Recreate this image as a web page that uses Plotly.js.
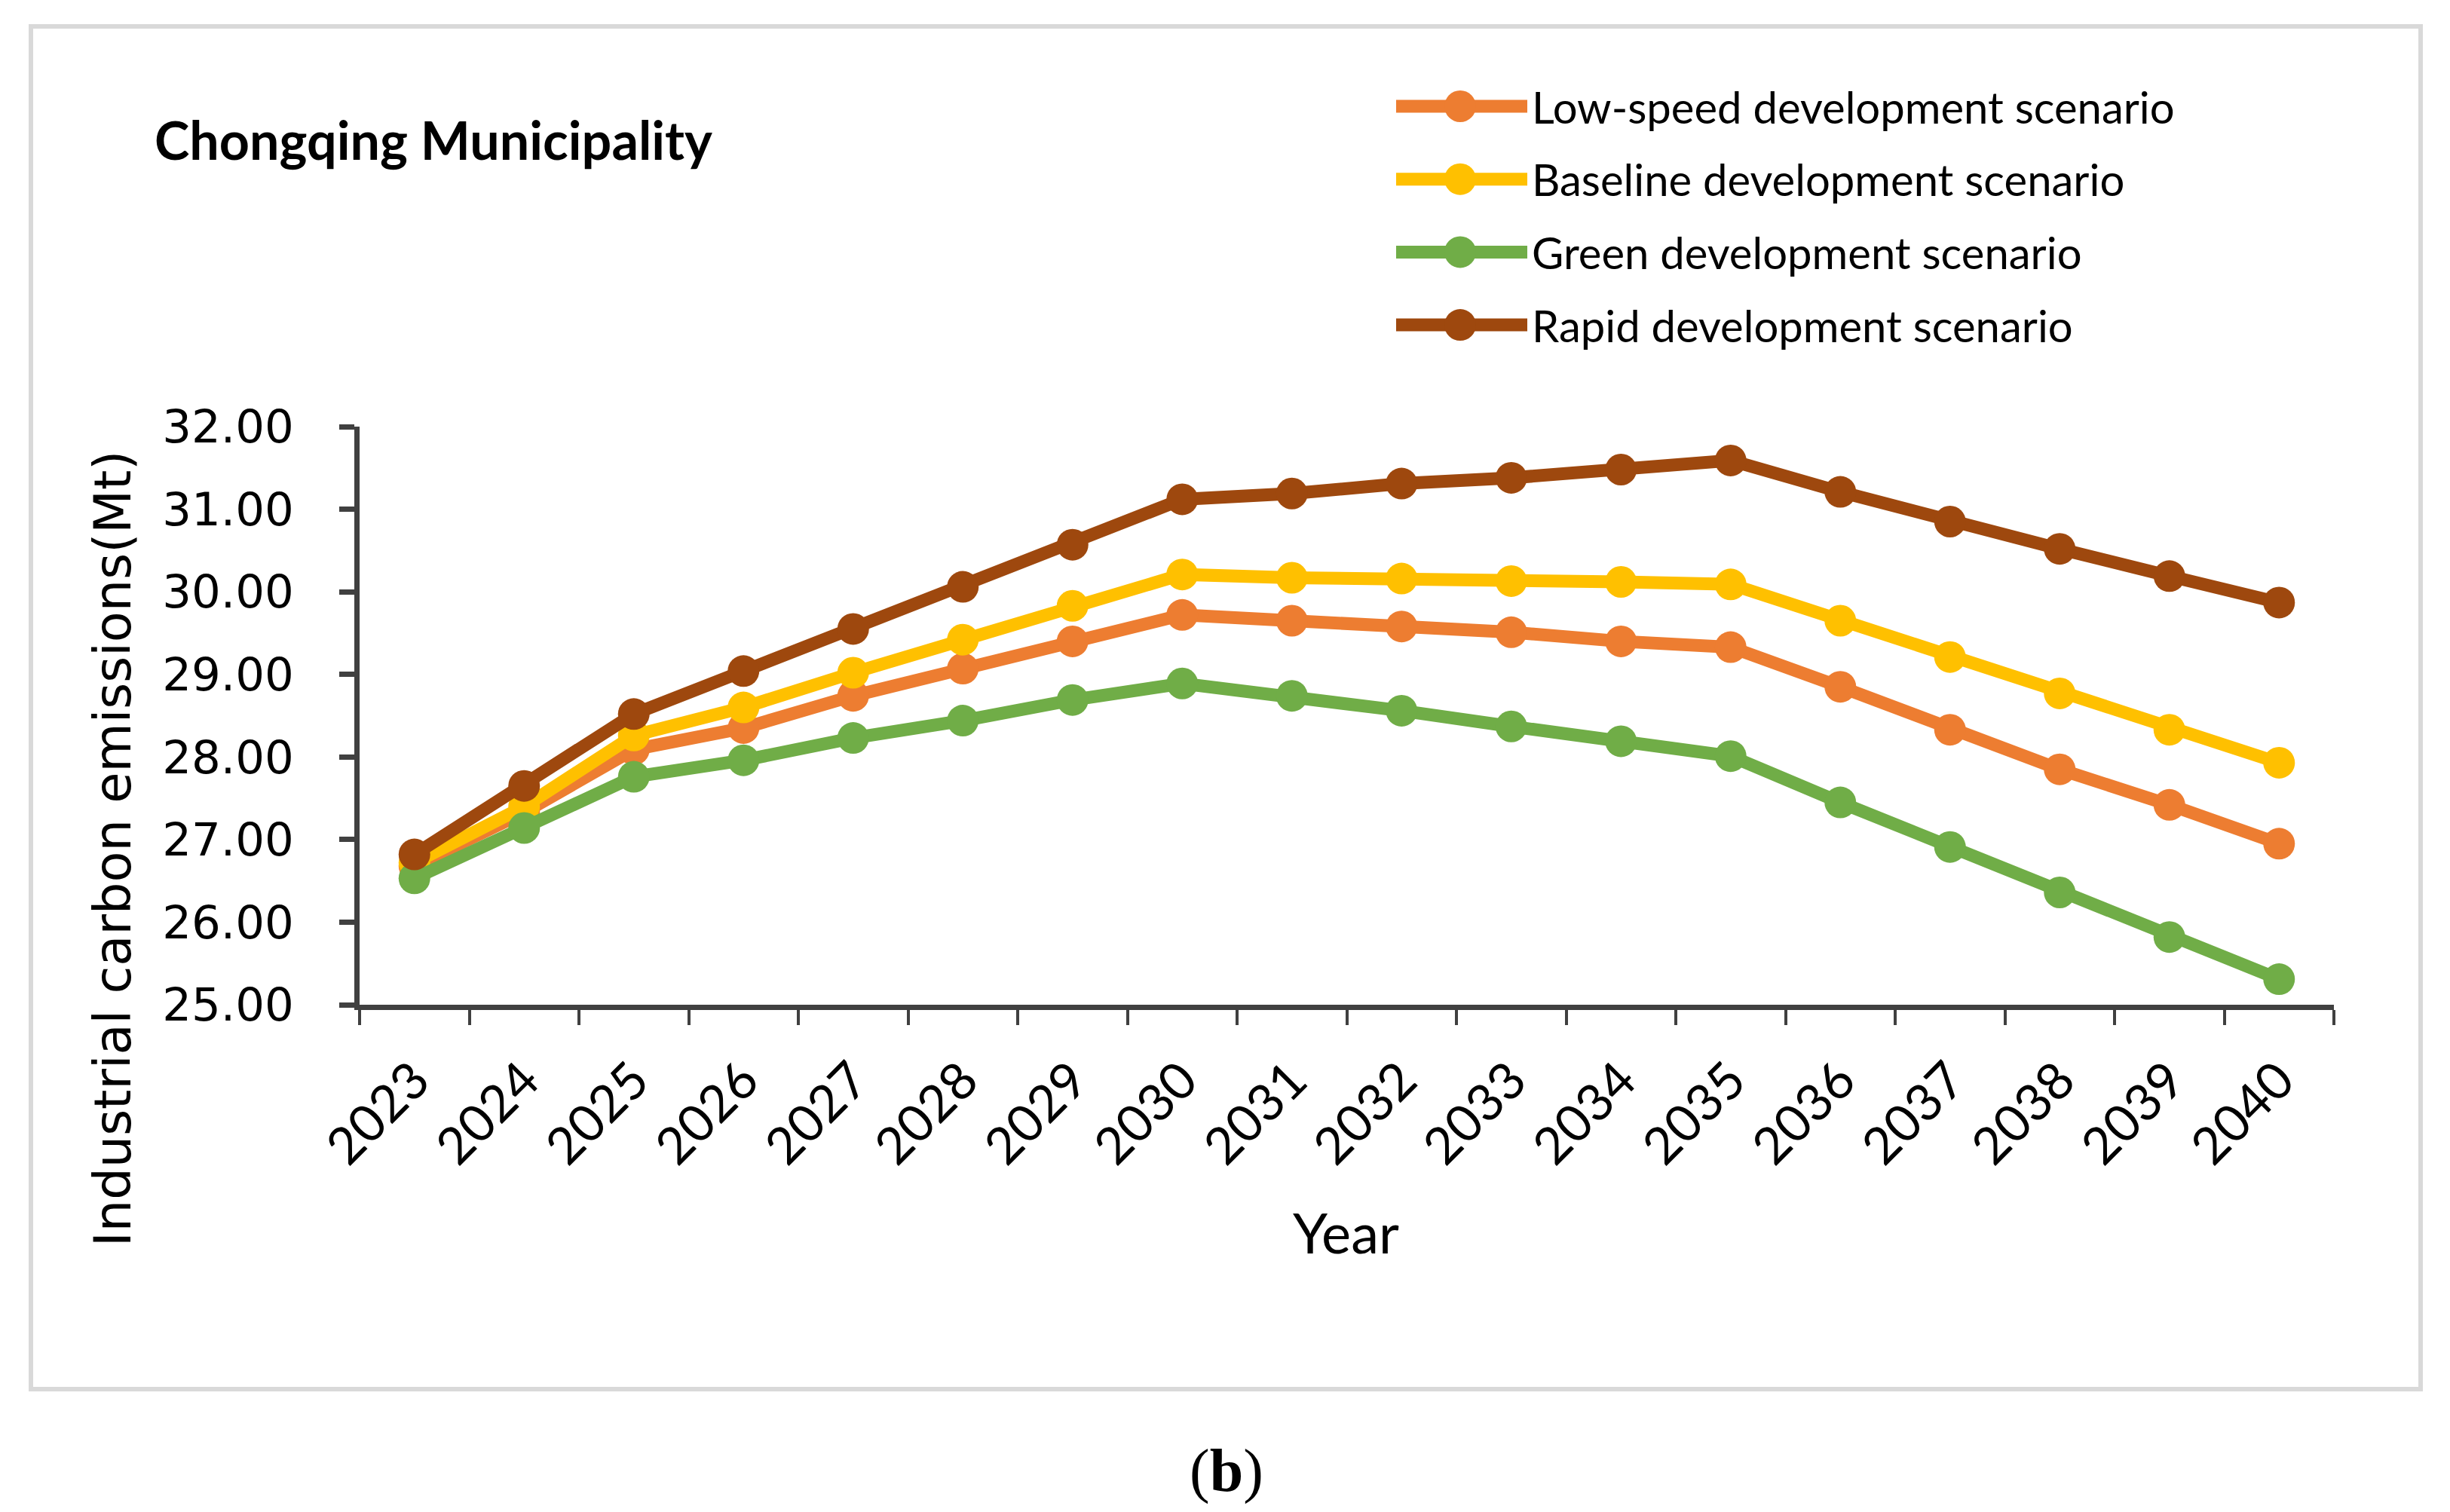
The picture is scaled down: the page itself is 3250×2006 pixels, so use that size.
<!DOCTYPE html>
<html>
<head>
<meta charset="utf-8">
<script src="https://cdn.plot.ly/plotly-3.0.1.min.js"></script>
<style>
  html, body { margin: 0; padding: 0; background: #ffffff; }
  #chart { width: 3250px; height: 2006px; }
</style>
</head>
<body>
<div id="chart"></div>
<script>
// ---- Data ----
const years = ['2023','2024','2025','2026','2027','2028','2029','2030','2031','2032','2033','2034','2035','2036','2037','2038','2039','2040'];
const lowSpeed = [26.68, 27.33, 28.09, 28.35, 28.74, 29.07, 29.40, 29.72, 29.65, 29.58, 29.51, 29.40, 29.33, 28.85, 28.33, 27.85, 27.42, 26.95];
const baseline = [26.72, 27.40, 28.26, 28.60, 29.02, 29.42, 29.83, 30.21, 30.17, 30.16, 30.13, 30.12, 30.09, 29.65, 29.21, 28.77, 28.33, 27.93];
const greenDev = [26.53, 27.14, 27.76, 27.96, 28.23, 28.44, 28.69, 28.89, 28.74, 28.56, 28.37, 28.19, 28.01, 27.45, 26.91, 26.36, 25.82, 25.31];
const rapid    = [26.82, 27.65, 28.52, 29.04, 29.55, 30.06, 30.57, 31.12, 31.19, 31.31, 31.38, 31.48, 31.59, 31.21, 30.85, 30.52, 30.19, 29.87];

const seriesNames = ['Low-speed development scenario', 'Baseline development scenario', 'Green development scenario', 'Rapid development scenario'];
const seriesValues = [lowSpeed, baseline, greenDev, rapid];
const seriesColors = ['#ED7D31', '#FFC000', '#70AD47', '#9E480E'];

const yTickValues = [25, 26, 27, 28, 29, 30, 31, 32];

const chartTitle = 'Chongqing Municipality';
const yTitle = 'Industrial carbon emissions(Mt)';
const xTitle = 'Year';
const panelLabel = '(<b>b</b>)';

// ---- Geometry ----
const W = 3250, H = 2006;
const L = 477, R = 3096, T = 566, B = 1333;
const PW = R - L, PH = B - T;
const px = v => (v - L) / PW;
const py = v => (B - v) / PH;

const LINE_W = 17, MARKER = 42;

const traces = seriesNames.map((name, i) => ({
  type: 'scatter',
  mode: 'lines+markers',
  name: name,
  x: years,
  y: seriesValues[i],
  line: { color: seriesColors[i], width: LINE_W },
  marker: { color: seriesColors[i], size: MARKER, symbol: 'circle' },
  showlegend: false,
  cliponaxis: false
}));

const shapes = [
  // outer light-grey frame
  { type: 'rect', xref: 'paper', yref: 'paper', x0: px(41), x1: px(3211), y0: py(35), y1: py(1843),
    line: { color: '#D9D9D9', width: 6 }, fillcolor: 'rgba(0,0,0,0)', layer: 'below' }
];
const annotations = [];

// custom legend (long line sample with centred marker)
const legendRowY = i => 141 + i * 96.7;
seriesNames.forEach((name, i) => {
  const yy = py(legendRowY(i));
  shapes.push({ type: 'line', xref: 'paper', yref: 'paper', x0: px(1852), x1: px(2026), y0: yy, y1: yy,
    line: { color: seriesColors[i], width: LINE_W } });
  shapes.push({ type: 'circle', xref: 'paper', yref: 'paper', xsizemode: 'pixel', ysizemode: 'pixel',
    xanchor: px(1937), yanchor: yy, x0: -MARKER/2, x1: MARKER/2, y0: -MARKER/2, y1: MARKER/2,
    fillcolor: seriesColors[i], line: { width: 0 } });
  annotations.push({ xref: 'paper', yref: 'paper', x: px(2030), y: yy, xanchor: 'left', yanchor: 'middle',
    text: name, showarrow: false, font: { family: 'Lato', size: 58, color: '#000000' } });
});

annotations.push(
  { xref: 'paper', yref: 'paper', x: px(203), y: py(185), xanchor: 'left', yanchor: 'middle',
    text: '<b>' + chartTitle + '</b>', showarrow: false, font: { family: 'Lato', size: 70, color: '#000000' } },
  { xref: 'paper', yref: 'paper', x: px(150), y: py(1126), xanchor: 'center', yanchor: 'middle', textangle: -90,
    text: yTitle, showarrow: false, font: { family: 'DejaVu Sans', size: 67, color: '#000000' } },
  { xref: 'paper', yref: 'paper', x: px(1785), y: py(1634), xanchor: 'center', yanchor: 'middle',
    text: xTitle, showarrow: false, font: { family: 'Lato', size: 74, color: '#000000' } },
  { xref: 'paper', yref: 'paper', x: px(1627), y: py(1951), xanchor: 'center', yanchor: 'middle',
    text: panelLabel, showarrow: false, font: { family: 'Liberation Serif', size: 80, color: '#000000' } }
);

const layout = {
  width: W, height: H,
  paper_bgcolor: '#ffffff', plot_bgcolor: '#ffffff',
  margin: { l: L, r: W - R, t: T, b: H - B, pad: 0 },
  showlegend: false,
  xaxis: {
    type: 'category', categoryorder: 'array', categoryarray: years,
    range: [-0.5, years.length - 0.5], autorange: false,
    tickson: 'boundaries', ticks: 'outside', ticklen: 20, tickwidth: 4, tickcolor: '#404040',
    showline: true, linewidth: 7, linecolor: '#404040', showgrid: false, zeroline: false,
    tickangle: -45, ticklabelstandoff: 26,
    tickfont: { family: 'Lato', size: 68, color: '#000000' },
    fixedrange: true
  },
  yaxis: {
    range: [25, 32], autorange: false, tickvals: yTickValues, tickformat: '.2f',
    ticks: 'outside', ticklen: 20, tickwidth: 7, tickcolor: '#404040',
    showline: true, linewidth: 7, linecolor: '#404040', showgrid: false, zeroline: false,
    ticklabelstandoff: 48,
    tickfont: { family: 'DejaVu Sans', size: 61, color: '#000000' },
    fixedrange: true
  },
  shapes: shapes,
  annotations: annotations
};

Plotly.newPlot('chart', traces, layout, { staticPlot: true, displayModeBar: false });
</script>
</body>
</html>
